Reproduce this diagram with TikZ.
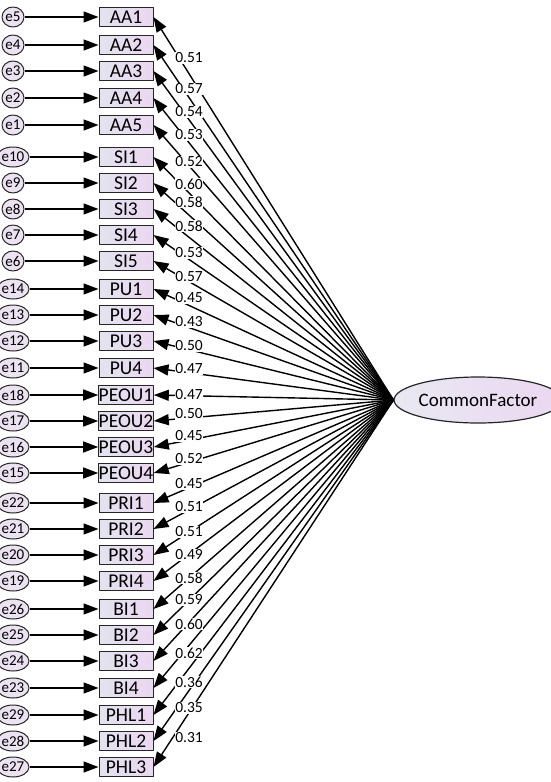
\documentclass[tikz,border=0pt]{standalone}
\usepackage{fontspec}
\setmainfont{Carlito}
\usetikzlibrary{arrows.meta,shapes.geometric}
\definecolor{boxleft}{HTML}{E3E3EF}
\definecolor{boxright}{HTML}{EBD7F1}
\definecolor{errfill}{HTML}{ECE2F2}
\begin{document}
\begin{tikzpicture}[x=1pt, y=-1pt, line join=round,
	>={Triangle[length=15pt,width=11pt]},
	ind/.style={draw=black!85, line width=1pt, minimum width=54pt, minimum height=19pt,
		inner sep=0pt, left color=boxleft, right color=boxright,
		font=\fontsize{19.5}{19.5}\selectfont},
	err/.style={ellipse, draw=black!85, line width=1pt, minimum width=22pt, minimum height=20pt,
		inner sep=0pt, fill=errfill, font=\fontsize{15}{15}\selectfont},
	fac/.style={ellipse, draw=black!85, line width=1.2pt, minimum width=137pt, minimum height=46pt,
		inner sep=0pt, left color=boxleft!80!white, right color=boxright,
		font=\fontsize{19}{19}\selectfont},
	lbl/.style={fill=white, inner sep=0.5pt, font=\fontsize{15.5}{15.5}\selectfont},
	]
	\useasboundingbox (0,0) rectangle (550,782);
	% name / error / y / loading / label y
	\def\rows{AA1/5/17/0.51/58, AA2/4/45/0.57/89, AA3/3/71/0.54/112, AA4/2/98/0.53/135,
		AA5/1/125/0.52/162, SI1/10/157/0.60/184, SI2/9/183/0.58/202, SI3/8/209/0.58/226,
		SI4/7/235/0.53/253, SI5/6/261/0.57/277, PU1/14/289/0.45/298, PU2/13/315/0.43/322,
		PU3/12/341/0.50/346, PU4/11/368/0.47/369, PEOU1/18/395/0.47/395, PEOU2/17/421/0.50/414,
		PEOU3/16/447/0.45/436, PEOU4/15/473/0.52/459, PRI1/22/503/0.45/484, PRI2/21/529/0.51/507,
		PRI3/20/555/0.51/532, PRI4/19/581/0.49/555, BI1/26/609/0.58/578, BI2/25/635/0.59/600,
		BI3/24/661/0.60/624, BI4/23/688/0.62/653, PHL1/29/715/0.36/682, PHL2/28/741/0.35/708,
		PHL3/27/767/0.31/738}
	\node[fac] (CF) at (478,400) {CommonFactor};
	\foreach \nm/\e/\y/\w/\ly in \rows {
		\node[ind] (\nm) at (126,\y) {\nm};
		\node[err] (e\e) at (13,\y) {e\e};
		\draw[->, line width=1.3pt] (e\e) -- (\nm);
		\draw[->, line width=1.4pt] (CF.west) -- (\nm.east);
	}
	% loadings on top of the lines
	\foreach \nm/\e/\y/\w/\ly in \rows
		\node[lbl] (w\nm) at (189,\ly) {\w};
\end{tikzpicture}
\end{document}
